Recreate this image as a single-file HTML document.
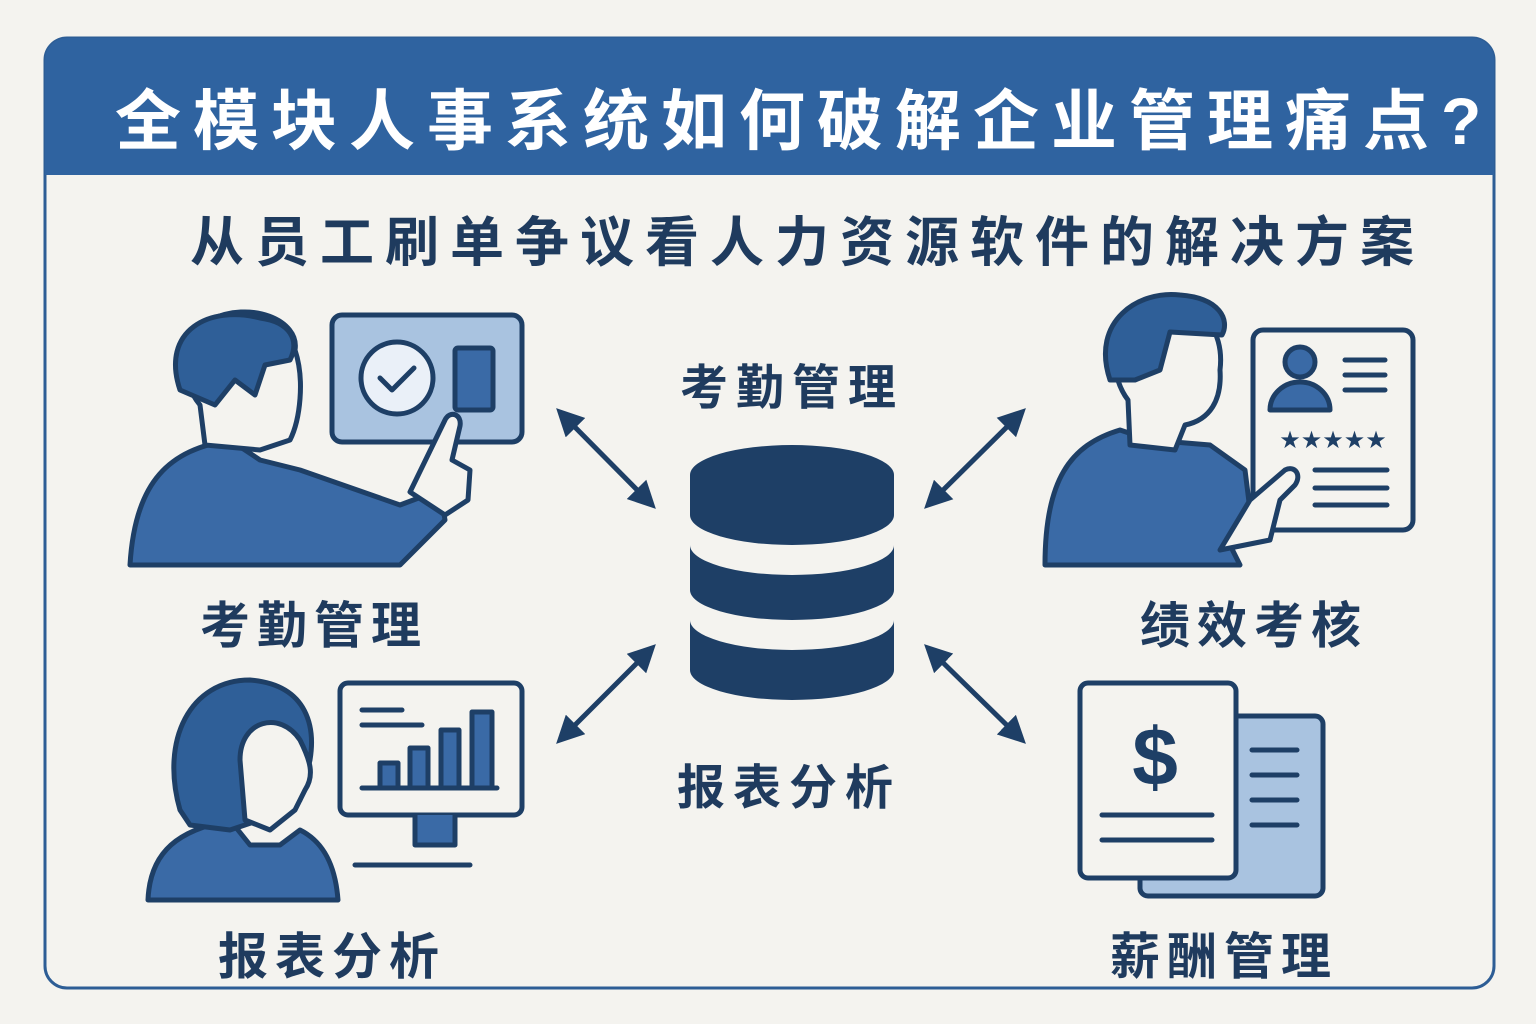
<!DOCTYPE html>
<html><head><meta charset="utf-8"><style>
html,body{margin:0;padding:0;background:#f4f3ef;}
body{width:1536px;height:1024px;overflow:hidden;position:relative;font-family:"Liberation Sans","Noto Sans CJK SC",sans-serif;}
.t{position:absolute;white-space:nowrap;font-weight:700;}
</style></head><body>
<svg width="1536" height="1024" style="position:absolute;left:0;top:0">
<defs>
<marker id="ah" viewBox="0 0 10 10" refX="8" refY="5" markerWidth="5.5" markerHeight="5.5" orient="auto-start-reverse"><path d="M0,0L10,5L0,10z" fill="#1e3f66"/></marker>
</defs>
<rect x="45" y="38" width="1449" height="950" rx="22" fill="#f4f3ef" stroke="#2d5d95" stroke-width="3"/>
<path d="M45,175 V60 a22,22 0 0 1 22,-22 H1472 a22,22 0 0 1 22,22 V175 Z" fill="#2f63a0"/>
<g stroke="#1e3f66" stroke-width="5" marker-start="url(#ah)" marker-end="url(#ah)">
<line x1="560" y1="412" x2="652" y2="505"/>
<line x1="1022" y1="412" x2="928" y2="505"/>
<line x1="652" y1="648" x2="560" y2="740"/>
<line x1="928" y1="648" x2="1022" y2="740"/>
</g>
<g fill="#1e3f66">
<path d="M690,475 a102,30 0 0 1 204,0 V515 a102,30 0 0 1 -204,0Z"/>
<path d="M690,545 a102,30 0 0 0 204,0 V590 a102,30 0 0 1 -204,0Z"/>
<path d="M690,620 a102,30 0 0 0 204,0 V670 a102,30 0 0 1 -204,0Z"/>
</g>
<g stroke="#1e3f66" stroke-width="5" stroke-linejoin="round" stroke-linecap="round">
<rect x="332" y="315" width="190" height="127" rx="10" fill="#a9c3e0"/>
<circle cx="397" cy="378" r="36" fill="#eaf0f8"/>
<path d="M380,378l12,12l22,-22" fill="none"/>
<rect x="455" y="348" width="38" height="62" rx="3" fill="#3a6aa6"/>
<path d="M130,565 C135,480 170,450 230,440 L260,460 L300,470 L400,505 L440,490 L445,520 L400,565 Z" fill="#3a6aa6"/>
<path d="M205,445 L200,405 C180,380 170,330 210,320 C250,300 300,320 295,350 C305,380 300,420 290,440 L260,450 Z" fill="#f4f3ef"/>
<path d="M180,390 C160,330 210,305 260,318 C290,322 300,340 290,360 L265,365 L255,395 L235,380 L215,405 Z" fill="#2f5f98"/>
<path d="M410,492 L445,420 C450,410 462,414 460,426 L452,460 L470,470 L468,500 L445,515 Z" fill="#f4f3ef"/>
<rect x="1253" y="330" width="160" height="200" rx="10" fill="#f4f3ef"/>
<circle cx="1300" cy="362" r="15" fill="#3a6aa6"/>
<path d="M1270,410 a30,28 0 0 1 60,0Z" fill="#3a6aa6"/>
<path d="M1345,360h40M1345,375h40M1345,390h40M1315,470h72M1315,488h72M1315,505h72" fill="none"/>
<path d="M1045,565 C1045,480 1070,445 1120,430 L1150,440 L1210,445 L1245,470 L1250,510 L1275,505 L1230,545 L1240,565 Z" fill="#3a6aa6"/>
<path d="M1130,445 L1128,400 C1105,370 1110,310 1150,300 C1200,295 1225,330 1220,370 C1222,400 1210,420 1185,425 L1175,450 Z" fill="#f4f3ef"/>
<path d="M1110,380 C1090,320 1140,290 1180,295 C1220,298 1230,320 1222,335 L1170,332 L1160,370 L1135,380 Z" fill="#2f5f98"/>
<path d="M1220,550 L1250,500 L1285,470 C1295,465 1302,475 1295,485 L1280,500 L1270,540 Z" fill="#f4f3ef"/>
<rect x="340" y="683" width="182" height="132" rx="8" fill="#f4f3ef"/>
<path d="M415,815 v30 h40 v-30" fill="#3a6aa6"/>
<path d="M355,865h115M362,710h40M362,725h60M362,788h135" fill="none"/>
<rect x="380" y="763" width="18" height="25" fill="#3a6aa6"/>
<rect x="410" y="748" width="18" height="40" fill="#3a6aa6"/>
<rect x="441" y="730" width="18" height="58" fill="#3a6aa6"/>
<rect x="472" y="712" width="20" height="76" fill="#3a6aa6"/>
<path d="M148,900 C150,850 180,830 230,820 L250,845 L280,845 L300,830 C320,840 335,860 338,900 Z" fill="#3a6aa6"/>
<path d="M180,810 C160,740 190,680 250,680 C310,685 315,730 310,760 L300,800 L260,820 L230,830 L190,825 Z" fill="#2f5f98"/>
<path d="M245,820 L240,760 C240,720 280,710 300,740 C310,760 315,775 305,790 L295,810 L270,830 Z" fill="#f4f3ef"/>
<rect x="1140" y="716" width="183" height="180" rx="8" fill="#a9c3e0"/>
<rect x="1080" y="683" width="156" height="195" rx="8" fill="#f4f3ef"/>
<path d="M1252,750h45M1252,775h45M1252,800h45M1252,825h45M1102,815h110M1102,840h110" fill="none"/>
</g>
<text x="1333" y="448" font-family="DejaVu Sans" font-size="24" fill="#1e3f66" text-anchor="middle">★★★★★</text>
<text x="1155" y="785" font-family="Liberation Sans" font-weight="700" font-size="82" fill="#1e3f66" text-anchor="middle">$</text>
</svg>
<div class="t" style="left:115px;top:68px;font-size:66px;color:#fff;letter-spacing:12px">全模块人事系统如何破解企业管理痛点?</div>
<div class="t" style="left:190px;top:198px;font-size:54px;color:#1f3b5e;letter-spacing:11px">从员工刷单争议看人力资源软件的解决方案</div>
<div class="t" style="left:680px;top:348px;font-size:48px;color:#1f3b5e;letter-spacing:8px">考勤管理</div>
<div class="t" style="left:677px;top:748px;font-size:48px;color:#1f3b5e;letter-spacing:8px">报表分析</div>
<div class="t" style="left:200px;top:586px;font-size:50px;color:#1f3b5e;letter-spacing:7px">考勤管理</div>
<div class="t" style="left:1140px;top:586px;font-size:50px;color:#1f3b5e;letter-spacing:7px">绩效考核</div>
<div class="t" style="left:218px;top:917px;font-size:50px;color:#1f3b5e;letter-spacing:7px">报表分析</div>
<div class="t" style="left:1110px;top:917px;font-size:50px;color:#1f3b5e;letter-spacing:7px">薪酬管理</div>
</body></html>
